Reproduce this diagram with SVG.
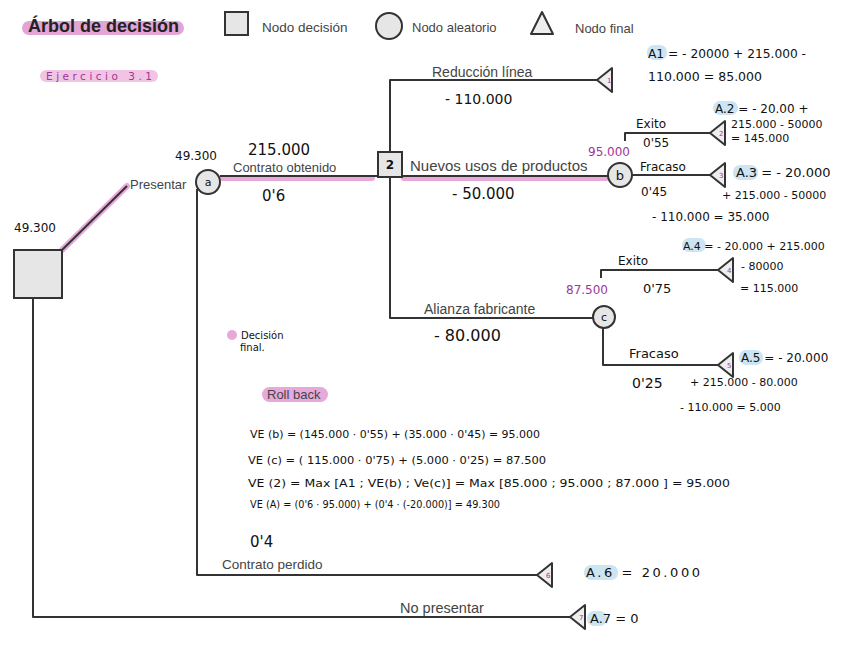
<svg xmlns="http://www.w3.org/2000/svg" width="848" height="656" viewBox="0 0 848 656">
<defs>
<style>
.ln{stroke:#333;stroke-width:2;fill:none;stroke-linejoin:round}
.hl{stroke:#e6a9d9;stroke-width:6;stroke-linecap:round;fill:none}
.node{fill:#e6e6e6;stroke:#333;stroke-width:2}
.tri{fill:#eeeeee;stroke:#333;stroke-width:2;stroke-linejoin:round}
.lbl{font-family:"Liberation Sans",Arial,sans-serif;fill:#444}
.hw{font-family:"DejaVu Sans",sans-serif;fill:#111}
.pur{font-family:"DejaVu Sans",sans-serif;fill:#a0359a}
.ahl{fill:#cde4f2}
.num{font-family:"DejaVu Sans",sans-serif;font-size:7px;fill:#a0359a}
</style>
<path id="tri" d="M0,0 L15,-12 L15,12 Z"/>
</defs>
<rect width="848" height="656" fill="#ffffff"/>

<g id="title">
<rect x="22" y="21" width="162" height="14" rx="7" fill="#e3a4d6"/>
<text x="28" y="32" font-family="Liberation Sans, Arial, sans-serif" font-weight="bold" font-size="18" fill="#222">Árbol de decisión</text>
<rect x="40" y="70" width="118" height="12" rx="6" fill="#f2c4e4"/>
<text x="46" y="80" class="pur" font-size="10.5" textLength="106" lengthAdjust="spacing">Ejercicio 3.1</text>
</g>

<g id="legend">
<rect x="225" y="12" width="23" height="23" class="node"/>
<text x="262" y="32" class="lbl" font-size="13.5">Nodo decisión</text>
<circle cx="389" cy="26" r="13" class="node"/>
<text x="412" y="32" class="lbl" font-size="13">Nodo aleatorio</text>
<path d="M542,12 L553,34 L531,34 Z" class="tri"/>
<text x="575" y="33" class="lbl" font-size="13">Nodo final</text>
</g>

<g id="connectors">
<line x1="62" y1="250" x2="127" y2="186" class="hl"/>
<line x1="222" y1="178" x2="372" y2="178" class="hl"/>
<line x1="404" y1="178" x2="606" y2="178" class="hl"/>
<line x1="62" y1="250" x2="127" y2="186" class="ln"/>
<line x1="220" y1="176" x2="378" y2="176" class="ln"/>
<polyline points="197,189 197,575 537,575" class="ln"/>
<polyline points="597,80 390,80 390,152" class="ln"/>
<polyline points="390,177 390,318 594,318" class="ln"/>
<line x1="402" y1="176" x2="608" y2="176" class="ln"/>
<polyline points="625,141 625,133 710,133" class="ln"/>
<line x1="632" y1="175" x2="710" y2="175" class="ln"/>
<polyline points="601,278 601,270 718,270" class="ln"/>
<polyline points="603,328 603,365 718,365" class="ln"/>
<polyline points="33,298 33,617 570,617" class="ln"/>
</g>

<g id="root">
<rect x="14" y="250" width="48" height="48" class="node"/>
<text x="14" y="232" class="hw" font-size="12">49.300</text>
<text x="130" y="189" class="lbl" font-size="13">Presentar</text>
</g>

<g id="node-a">
<circle cx="208" cy="182" r="12" class="node"/>
<text x="208" y="186" class="hw" font-size="11" text-anchor="middle">a</text>
<text x="175" y="160" class="hw" font-size="12">49.300</text>
<text x="248" y="155" class="hw" font-size="15">215.000</text>
<text x="233" y="172" class="lbl" font-size="13" fill="#666">Contrato obtenido</text>
<text x="262" y="201" class="hw" font-size="15">0'6</text>
</g>

<g id="node-2">
<rect x="378" y="152" width="24" height="25" class="node"/>
<text x="390" y="169" class="hw" font-size="12" font-weight="bold" text-anchor="middle">2</text>
<text x="432" y="77" class="lbl" font-size="14">Reducción línea</text>
<text x="445" y="104" class="hw" font-size="14">- 110.000</text>
<text x="410" y="171" class="lbl" font-size="15" fill="#333">Nuevos usos de productos</text>
<text x="452" y="199" class="hw" font-size="15">- 50.000</text>
<text x="424" y="314" class="lbl" font-size="14">Alianza fabricante</text>
<text x="434" y="341" class="hw" font-size="16">- 80.000</text>
</g>

<g id="node-b">
<circle cx="620" cy="175" r="12" class="node"/>
<text x="620" y="180" class="hw" font-size="13" text-anchor="middle">b</text>
<text x="588" y="156" class="pur" font-size="12">95.000</text>
<text x="636" y="128" class="hw" font-size="12">Exito</text>
<text x="643" y="147" class="hw" font-size="12">0'55</text>
<text x="640" y="171" class="hw" font-size="12">Fracaso</text>
<text x="641" y="196" class="hw" font-size="12">0'45</text>
</g>

<g id="node-c">
<circle cx="604" cy="317" r="11" class="node"/>
<text x="604" y="321" class="hw" font-size="11" text-anchor="middle">c</text>
<text x="566" y="294" class="pur" font-size="12">87.500</text>
<text x="618" y="265" class="hw" font-size="12">Exito</text>
<text x="643" y="293" class="hw" font-size="13">0'75</text>
<text x="629" y="358" class="hw" font-size="13">Fracaso</text>
<text x="632" y="388" class="hw" font-size="14">0'25</text>
</g>

<g id="end-1">
<use href="#tri" x="597" y="80" class="tri"/>
<text x="607" y="83" class="num">1</text>
<rect x="647" y="45" width="20" height="15" rx="7" class="ahl"/>
<text x="648" y="58" class="hw" font-size="13" textLength="158" lengthAdjust="spacingAndGlyphs">A1 = - 20000 + 215.000 -</text>
<text x="648" y="81" class="hw" font-size="13" textLength="114" lengthAdjust="spacingAndGlyphs">110.000 = 85.000</text>
</g>

<g id="end-2">
<use href="#tri" x="710" y="133" class="tri"/>
<text x="719" y="136" class="num">2</text>
<rect x="713" y="101" width="25" height="14" rx="7" class="ahl"/>
<text x="715" y="113" class="hw" font-size="12">A.2 = - 20.00 +</text>
<text x="731" y="128" class="hw" font-size="11">215.000 - 50000</text>
<text x="731" y="142" class="hw" font-size="11">= 145.000</text>
</g>

<g id="end-3">
<use href="#tri" x="710" y="175" class="tri"/>
<text x="719" y="178" class="num">3</text>
<rect x="733" y="165" width="25" height="15" rx="7" class="ahl"/>
<text x="736" y="177" class="hw" font-size="13">A.3 = - 20.000</text>
<text x="722" y="199" class="hw" font-size="11">+ 215.000 - 50000</text>
<text x="652" y="221" class="hw" font-size="12">- 110.000 = 35.000</text>
</g>

<g id="end-4">
<use href="#tri" x="718" y="270" class="tri"/>
<text x="727" y="273" class="num">4</text>
<rect x="682" y="238" width="24" height="14" rx="7" class="ahl"/>
<text x="683" y="250" class="hw" font-size="11">A.4 = - 20.000 + 215.000</text>
<text x="741" y="270" class="hw" font-size="11">- 80000</text>
<text x="740" y="292" class="hw" font-size="11">= 115.000</text>
</g>

<g id="end-5">
<use href="#tri" x="718" y="365" class="tri"/>
<text x="727" y="368" class="num">5</text>
<rect x="739" y="350" width="24" height="15" rx="7" class="ahl"/>
<text x="741" y="362" class="hw" font-size="12">A.5 = - 20.000</text>
<text x="690" y="386" class="hw" font-size="11">+ 215.000 - 80.000</text>
<text x="680" y="411" class="hw" font-size="11">- 110.000 = 5.000</text>
</g>

<g id="end-6">
<use href="#tri" x="537" y="575" class="tri"/>
<text x="546" y="578" class="num">6</text>
<text x="250" y="547" class="hw" font-size="15">0'4</text>
<text x="222" y="569" class="lbl" font-size="13.5">Contrato perdido</text>
<rect x="584" y="565" width="34" height="15" rx="7" class="ahl"/>
<text x="586" y="577" class="hw" font-size="13" textLength="114" lengthAdjust="spacing">A.6 = 20.000</text>
</g>

<g id="end-7">
<use href="#tri" x="570" y="617" class="tri"/>
<text x="579" y="620" class="num">7</text>
<text x="400" y="613" class="lbl" font-size="14.5">No presentar</text>
<rect x="587" y="611" width="20" height="15" rx="7" class="ahl"/>
<text x="590" y="623" class="hw" font-size="13">A.7 = 0</text>
</g>

<g id="notes">
<circle cx="232" cy="335" r="5" fill="#e6a9d9"/>
<text x="241" y="339" class="hw" font-size="10">Decisión</text>
<text x="240" y="351" class="hw" font-size="10">final.</text>
<rect x="262" y="387" width="66" height="15" rx="7.5" fill="#e6a9d9"/>
<text x="267" y="399" class="lbl" font-size="13" fill="#333">Roll back</text>
<text x="250" y="438" class="hw" font-size="10" textLength="290" lengthAdjust="spacingAndGlyphs">VE (b) = (145.000 · 0'55) + (35.000 · 0'45) = 95.000</text>
<text x="248" y="464" class="hw" font-size="10" textLength="298" lengthAdjust="spacingAndGlyphs">VE (c) = ( 115.000 · 0'75) + (5.000 · 0'25) = 87.500</text>
<text x="248" y="487" class="hw" font-size="10" textLength="482" lengthAdjust="spacingAndGlyphs">VE (2) = Max [A1 ; VE(b) ; Ve(c)] = Max [85.000 ; 95.000 ; 87.000 ] = 95.000</text>
<text x="250" y="508" class="hw" font-size="10" textLength="250" lengthAdjust="spacingAndGlyphs">VE (A) = (0'6 · 95.000) + (0'4 · (-20.000)] = 49.300</text>
</g>
</svg>
